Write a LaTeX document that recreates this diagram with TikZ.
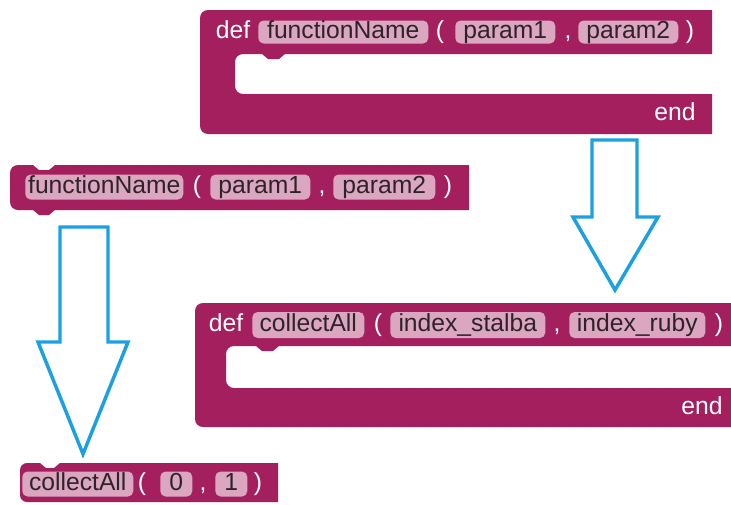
\documentclass[tikz,border=0pt]{standalone}
\usepackage{fontspec}
\setmainfont{Liberation Sans}
\definecolor{blk}{RGB}{164,31,94}
\definecolor{fld}{RGB}{219,166,191}
\definecolor{arr}{RGB}{27,161,226}
\definecolor{ftxt}{RGB}{45,35,40}
\newcommand\fs{\fontsize{18.5}{21}\selectfont}
\newcommand\fld[6]{\node[field, minimum width={(#3-#2)*0.75pt}, minimum height={#5*0.75pt}] (#1) at (#2,#4) {#6};}
\begin{document}
\begin{tikzpicture}[x=0.75pt,y=-0.75pt,
  field/.style={fill=fld, rounded corners=4pt, inner sep=0pt, text=ftxt, font=\fs, text height=13.2pt, text depth=3.5pt, anchor=west},
  lbl/.style={text=white, inner sep=0pt, font=\fs, text height=13.2pt, text depth=3.5pt},
  blockarrow/.style={draw=arr, line width=2.6pt, line join=miter, fill=white}]
\clip (0,0) rectangle (731,504);
\fill[white] (0,0) rectangle (731,504);
% block 1: def functionName
\fill[blk] (200,18) arc[start angle=180,end angle=270,radius=8] -- (712,10) -- (712,54) -- (285,54) -- (279,59) -- (268,59) -- (262,54) -- (243,54) arc[start angle=270,end angle=180,radius=8] -- (235,86) arc[start angle=180,end angle=90,radius=8] -- (712,94) -- (712,134) -- (208,134) arc[start angle=90,end angle=180,radius=8] -- cycle;
\node[lbl] (def1) at (233,32) {def};
\fld{fn1}{258}{428}{32}{23}{functionName}
\node[lbl] (lp1) at (440,32) {(};
\fld{pa1}{455}{555}{32}{23}{param1}
\node[lbl] (cm1) at (568,32) {,};
\fld{pb1}{578}{678}{32}{23}{param2}
\node[lbl] (rp1) at (690,32) {)};
\node[lbl] (end1) at (675,114) {end};
% block 2: def collectAll
\fill[blk] (195,311) arc[start angle=180,end angle=270,radius=8] -- (740,303) -- (740,346) -- (279,346) -- (273,351) -- (262,351) -- (256,346) -- (234,346) arc[start angle=270,end angle=180,radius=8] -- (226,380) arc[start angle=180,end angle=90,radius=8] -- (740,388) -- (740,427) -- (203,427) arc[start angle=90,end angle=180,radius=8] -- cycle;
\node[lbl] (def2) at (226,325) {def};
\fld{fn2}{252}{364}{325}{26}{collectAll}
\node[lbl] (lp2) at (378,325) {(};
\fld{pa2}{390}{545}{325}{26}{index\_stalba}
\node[lbl] (cm2) at (557,325) {,};
\fld{pb2}{569}{705}{325}{26}{index\_ruby}
\node[lbl] (rp2) at (719,325) {)};
\node[lbl] (end2) at (702,408) {end};
% block 3: call functionName
\fill[blk] (10,173) arc[start angle=180,end angle=270,radius=8] -- (33,165) -- (39,170) -- (49,170) -- (55,165) -- (469,165) -- (469,210) -- (55,210) -- (49,215) -- (39,215) -- (33,210) -- (18,210) arc[start angle=90,end angle=180,radius=8] -- cycle;
\fld{fn3}{25}{183}{187}{25}{functionName}
\node[lbl] (lp3) at (197,187) {(};
\fld{pa3}{210}{310}{187}{25}{param1}
\node[lbl] (cm3) at (322,187) {,};
\fld{pb3}{333}{435}{187}{25}{param2}
\node[lbl] (rp3) at (448,187) {)};
% block 4: call collectAll
\fill[blk] (20,470) arc[start angle=180,end angle=270,radius=7] -- (40,463) -- (46,468) -- (54,468) -- (60,463) -- (278,463) -- (278,502) -- (27,502) arc[start angle=90,end angle=180,radius=7] -- cycle;
\fld{fn4}{22}{133}{484}{25}{collectAll}
\node[lbl] (lp4) at (142,484) {(};
\fld{pa4}{160}{192}{484}{25}{0}
\node[lbl] (cm4) at (203,484) {,};
\fld{pb4}{215}{247}{484}{25}{1}
\node[lbl] (rp4) at (258,484) {)};
% arrows
\draw[blockarrow] (60,227) -- (108,227) -- (108,342) -- (128,342) -- (83,454) -- (38,342) -- (60,342) -- cycle;
\draw[blockarrow] (592,140) -- (637,140) -- (637,217) -- (658,217) -- (615,290) -- (573,217) -- (592,217) -- cycle;
\end{tikzpicture}
\end{document}
